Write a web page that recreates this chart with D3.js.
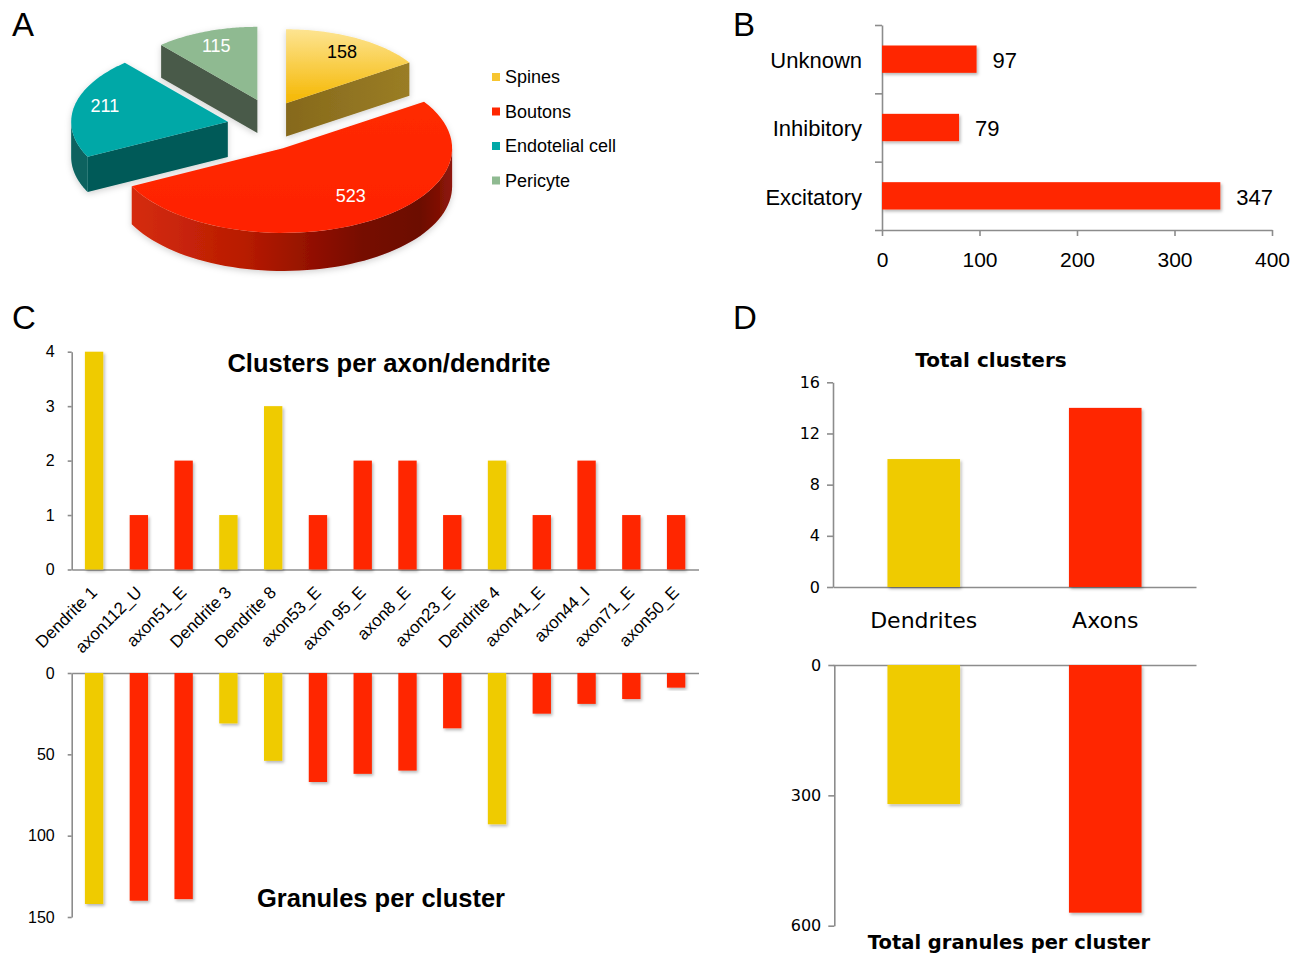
<!DOCTYPE html>
<html lang="en">
<head>
<meta charset="UTF-8">
<title>Clusters per axon/dendrite</title>
<script src="https://cdn.jsdelivr.net/npm/d3@7"></script>
<style>
  body { margin: 0; background: #fff; }
  svg { display: block; }
</style>
</head>
<body>
<div id="chart"></div>
<script>
// ---- data ----
// A: pie
const pieCats = ["Spines", "Boutons", "Endotelial cell", "Pericyte"]
const pieValues = [158, 523, 211, 115]
// B: synapse types
const typeCats = ["Unknown", "Inhibitory", "Excitatory"]
const typeValues = [97, 79, 347]
const typeTicks = [0, 100, 200, 300, 400]
// C: per axon / dendrite
const fibreNames = ["Dendrite 1", "axon112_U", "axon51_E", "Dendrite 3", "Dendrite 8", "axon53_E", "axon 95_E",
    "axon8_E", "axon23_E", "Dendrite 4", "axon41_E", "axon44_I", "axon71_E", "axon50_E"]
const fibreKind = ["d", "a", "a", "d", "d", "a", "a", "a", "a", "d", "a", "a", "a", "a"]
const clusterCounts = [4, 1, 2, 1, 3, 1, 2, 2, 1, 2, 1, 2, 1, 1]
const granuleCounts = [142, 140, 139, 31, 54, 67, 62, 60, 34, 93, 25, 19, 16, 9]
const clusterTicks = [0, 1, 2, 3, 4]
const granuleTicks = [0, 50, 100, 150]
// D: totals
const groupNames = ["Dendrites", "Axons"]
const groupKind = ["d", "a"]
const totalClusters = [10, 14]
const totalGranules = [320, 570]
const totalClusterTicks = [0, 4, 8, 12, 16]
const totalGranuleTicks = [0, 300, 600]

const kindColor = { d: "#efcb00", a: "#ff2800" }
const HELV = "'Liberation Sans', Arial, Helvetica, sans-serif"
const LUCIDA = "'DejaVu Sans', Verdana, sans-serif"
const intFmt = d3.format("d")

const svg = d3.select("#chart").append("svg").attr("width", 1302).attr("height", 954)
svg.append("rect").attr("width", 1302).attr("height", 954).attr("fill", "#fff")
const defs = svg.append("defs")

defs.append("filter").attr("id", "shadow").attr("x", "-30%").attr("y", "-10%").attr("width", "160%").attr("height", "130%")
    .append("feDropShadow").attr("dx", 1.5).attr("dy", 2).attr("stdDeviation", 1.6)
    .attr("flood-color", "#000").attr("flood-opacity", 0.28)
defs.append("filter").attr("id", "pieShadow").attr("x", "-20%").attr("y", "-20%").attr("width", "140%").attr("height", "140%")
    .append("feDropShadow").attr("dx", 0).attr("dy", 2).attr("stdDeviation", 3)
    .attr("flood-color", "#000").attr("flood-opacity", 0.18)

function gradient(id, stops, vertical) {
    const g = defs.append("linearGradient").attr("id", id)
        .attr("x1", 0).attr("y1", 0).attr("x2", vertical ? 0 : 1).attr("y2", vertical ? 1 : 0)
    stops.forEach(s => g.append("stop").attr("offset", s[0]).attr("stop-color", s[1]))
}
gradient("spinesTop", [[0, "#fde491"], [1, "#f5b700"]], true)
gradient("spinesFace", [[0, "#86691c"], [1, "#9a7d25"]], false)
gradient("boutonsWall", [[0, "#d52c0c"], [0.35, "#b81b03"], [0.72, "#760900"], [0.9, "#6c0700"], [1, "#8e1809"]], false)
gradient("boutonsTop", [[0, "#ff2a00"], [1, "#ff2200"]], true)

function styleAxis(g, family, size) {
    g.attr("font-family", family).attr("font-size", size)
    g.selectAll("path, line").attr("stroke", "#8c8c8c").attr("stroke-width", 1.6)
    g.selectAll("text").attr("fill", "#000")
}

// panel letters
const panelLetters = ["A", "B", "C", "D"]
svg.append("g").selectAll("text").data(panelLetters).join("text")
    .attr("x", (d, i) => i % 2 ? 733 : 12)
    .attr("y", (d, i) => i < 2 ? 36 : 329)
    .attr("font-family", HELV).attr("font-size", 33).text(d => d)

// ---- A: exploded 3D pie ----
const pieCfg = { cx: 270, cy: 129, rx: 160, ry: 80, depth: 36, tilt: 0.86, persp: 340 }
const pieExplode = [34, 26, 43, 36]
const pieStyle = [
    { top: "url(#spinesTop)", face: "url(#spinesFace)", wall: "#8f7421", label: "#000", key: "#f7c530" },
    { top: "url(#boutonsTop)", face: "#9e1200", wall: "url(#boutonsWall)", label: "#fff", key: "#ff2600" },
    { top: "#00a8a7", face: "#045a58", wall: "#08625f", label: "#fff", key: "#00a8a7" },
    { top: "#8fba91", face: "#4a5a48", wall: "#4a5a48", label: "#fff", key: "#8fba91" }
]

const arcs = d3.pie().sort(null).value(d => d)(pieValues)
const slices = arcs.map((a, i) => {
    const mid = (a.startAngle + a.endAngle) / 2
    const ax = pieCfg.cx + pieExplode[i] * Math.sin(mid)
    const ay = pieCfg.cy - pieExplode[i] * Math.cos(mid) * pieCfg.tilt
    const k = 1 + (ay - pieCfg.cy) / pieCfg.persp
    return { i, a, mid, ax, ay, rx: pieCfg.rx * k, ry: pieCfg.ry * k, dz: pieCfg.depth * k }
})

const rim = (s, t, z) => [s.ax + s.rx * Math.sin(t), s.ay - s.ry * Math.cos(t) + (z || 0)]
const arcPts = (s, t0, t1, z) => d3.range(61).map(j => rim(s, t0 + (t1 - t0) * j / 60, z))
const poly = d3.line()

const pieG = svg.append("g")
slices.slice().sort((p, q) => p.ay - q.ay).forEach(s => {
    const g = pieG.append("g").attr("filter", "url(#pieShadow)")
    const st = pieStyle[s.i]
    const t0 = s.a.startAngle, t1 = s.a.endAngle
    const apex = [s.ax, s.ay], apexLow = [s.ax, s.ay + s.dz]
    if (Math.sin(t0) < -1e-6) {
        g.append("path").attr("fill", st.face)
            .attr("d", poly([apex, rim(s, t0), rim(s, t0, s.dz), apexLow]) + "Z")
    }
    if (Math.sin(t1) > 1e-6) {
        g.append("path").attr("fill", st.face)
            .attr("d", poly([apex, rim(s, t1), rim(s, t1, s.dz), apexLow]) + "Z")
    }
    const w0 = Math.max(t0, Math.PI / 2), w1 = Math.min(t1, Math.PI * 1.5)
    if (w1 > w0) {
        const pts = arcPts(s, w0, w1).concat(arcPts(s, w1, w0, s.dz))
        g.append("path").attr("fill", st.wall).attr("d", poly(pts) + "Z")
    }
    g.append("path").attr("fill", st.top)
        .attr("d", poly([apex].concat(arcPts(s, t0, t1))) + "Z")
})

pieG.selectAll("text.val").data(slices).join("text")
    .attr("x", s => s.ax + 0.8 * s.rx * Math.sin(s.mid))
    .attr("y", s => s.ay - 0.72 * s.ry * Math.cos(s.mid) - 5)
    .attr("dy", "0.35em").attr("text-anchor", "middle")
    .attr("font-family", HELV).attr("font-size", 18)
    .attr("fill", s => pieStyle[s.i].label)
    .text(s => pieValues[s.i])

const legend = svg.append("g").selectAll("g").data(pieCats).join("g")
    .attr("transform", (d, i) => `translate(492,${77 + i * 34.5})`)
legend.append("rect").attr("y", -4).attr("width", 8).attr("height", 8).attr("fill", (d, i) => pieStyle[i].key)
legend.append("text").attr("x", 13).attr("dy", "0.35em")
    .attr("font-family", HELV).attr("font-size", 18).text(d => d)

// ---- B: horizontal bars ----
const xB = d3.scaleLinear().domain([0, 400]).range([882, 1272])
const yB = d3.scaleBand().domain(typeCats).range([25, 230]).paddingInner(0.6).paddingOuter(0.3)
const sepB = d3.scaleLinear().domain([0, typeCats.length]).range([230, 25])

svg.append("g").attr("transform", "translate(0,230)")
    .call(d3.axisBottom(xB).tickValues(typeTicks).tickSize(6).tickSizeOuter(0).tickPadding(16))
    .call(g => styleAxis(g, HELV, 21))
svg.append("g").attr("transform", "translate(882,0)")
    .call(d3.axisLeft(sepB).tickValues(d3.range(typeCats.length + 1)).tickSize(7).tickSizeOuter(0).tickFormat(""))
    .call(g => styleAxis(g, HELV, 21))

svg.append("g").selectAll("rect").data(typeValues).join("rect")
    .attr("x", xB(0)).attr("y", (d, i) => yB(typeCats[i]))
    .attr("width", d => xB(d) - xB(0)).attr("height", yB.bandwidth())
    .attr("fill", kindColor.a).attr("filter", "url(#shadow)")
svg.append("g").selectAll("text").data(typeValues).join("text")
    .attr("x", d => xB(d) + 16).attr("y", (d, i) => yB(typeCats[i]) + yB.bandwidth() / 2 + 1)
    .attr("dy", "0.35em").attr("font-family", HELV).attr("font-size", 22).text(d => d)
svg.append("g").selectAll("text").data(typeCats).join("text")
    .attr("x", 862).attr("y", d => yB(d) + yB.bandwidth() / 2 + 1)
    .attr("dy", "0.35em").attr("text-anchor", "end").attr("font-family", HELV).attr("font-size", 22).text(d => d)

// ---- C: clusters (up) and granules (down) ----
const xC = d3.scaleBand().domain(fibreNames).range([71.7, 698.5]).paddingInner(0.59).paddingOuter(0.295)
const yCt = d3.scaleLinear().domain([0, 4]).range([569.5, 351.7])
const yCb = d3.scaleLinear().domain([0, 150]).range([673, 917])

svg.append("g").attr("transform", "translate(71.7,0)")
    .call(d3.axisLeft(yCt).tickValues(clusterTicks).tickFormat(intFmt).tickSize(4).tickSizeOuter(0).tickPadding(13))
    .call(g => styleAxis(g, HELV, 16))
svg.append("g").attr("transform", `translate(0,${yCt(0)})`)
    .call(d3.axisBottom(xC).tickSize(0).tickSizeOuter(0).tickFormat(""))
    .call(g => styleAxis(g, HELV, 16))
svg.append("g").attr("transform", "translate(71.7,0)")
    .call(d3.axisLeft(yCb).tickValues(granuleTicks).tickFormat(intFmt).tickSize(4).tickSizeOuter(0).tickPadding(13))
    .call(g => styleAxis(g, HELV, 16))
svg.append("g").attr("transform", `translate(0,${yCb(0)})`)
    .call(d3.axisTop(xC).tickSize(0).tickSizeOuter(0).tickFormat(""))
    .call(g => styleAxis(g, HELV, 16))

svg.append("g").selectAll("rect").data(clusterCounts).join("rect")
    .attr("x", (d, i) => xC(fibreNames[i])).attr("width", xC.bandwidth())
    .attr("y", d => yCt(d)).attr("height", d => yCt(0) - yCt(d))
    .attr("fill", (d, i) => kindColor[fibreKind[i]]).attr("filter", "url(#shadow)")
svg.append("g").selectAll("rect").data(granuleCounts).join("rect")
    .attr("x", (d, i) => xC(fibreNames[i])).attr("width", xC.bandwidth())
    .attr("y", yCb(0)).attr("height", d => yCb(d) - yCb(0))
    .attr("fill", (d, i) => kindColor[fibreKind[i]]).attr("filter", "url(#shadow)")

svg.append("g").selectAll("text").data(fibreNames).join("text")
    .attr("transform", d => `translate(${xC(d) + xC.bandwidth() / 2 + 4},${yCt(0) + 24}) rotate(-45)`)
    .attr("text-anchor", "end").attr("font-family", HELV).attr("font-size", 17).text(d => d)

svg.append("text").attr("x", 389).attr("y", 372).attr("text-anchor", "middle")
    .attr("font-family", HELV).attr("font-weight", "bold").attr("font-size", 25.5).text("Clusters per axon/dendrite")
svg.append("text").attr("x", 381).attr("y", 907).attr("text-anchor", "middle")
    .attr("font-family", HELV).attr("font-weight", "bold").attr("font-size", 25.5).text("Granules per cluster")

// ---- D: totals ----
const xD = d3.scaleBand().domain(groupNames).range([833, 1196]).paddingInner(0.6).paddingOuter(0.3)
const yDt = d3.scaleLinear().domain([0, 16]).range([587, 382.3])
const yDb = d3.scaleLinear().domain([0, 600]).range([665, 925.7])

svg.append("g").attr("transform", "translate(833,0)")
    .call(d3.axisLeft(yDt).tickValues(totalClusterTicks).tickSize(6).tickSizeOuter(0).tickPadding(7))
    .call(g => styleAxis(g, LUCIDA, 16))
svg.append("g").attr("transform", `translate(0,${yDt(0)})`)
    .call(d3.axisBottom(xD).tickSize(0).tickSizeOuter(0).tickFormat(""))
    .call(g => styleAxis(g, LUCIDA, 16))
svg.append("g").attr("transform", "translate(834.3,0)")
    .call(d3.axisLeft(yDb).tickValues(totalGranuleTicks).tickSize(6).tickSizeOuter(0).tickPadding(7))
    .call(g => styleAxis(g, LUCIDA, 16))
svg.append("g").attr("transform", `translate(0,${yDb(0)})`)
    .call(d3.axisTop(xD).tickSize(0).tickSizeOuter(0).tickFormat(""))
    .call(g => styleAxis(g, LUCIDA, 16))

svg.append("g").selectAll("rect").data(totalClusters).join("rect")
    .attr("x", (d, i) => xD(groupNames[i])).attr("width", xD.bandwidth())
    .attr("y", d => yDt(d)).attr("height", d => yDt(0) - yDt(d))
    .attr("fill", (d, i) => kindColor[groupKind[i]]).attr("filter", "url(#shadow)")
svg.append("g").selectAll("rect").data(totalGranules).join("rect")
    .attr("x", (d, i) => xD(groupNames[i])).attr("width", xD.bandwidth())
    .attr("y", yDb(0)).attr("height", d => yDb(d) - yDb(0))
    .attr("fill", (d, i) => kindColor[groupKind[i]]).attr("filter", "url(#shadow)")

svg.append("g").selectAll("text").data(groupNames).join("text")
    .attr("x", d => xD(d) + xD.bandwidth() / 2).attr("y", 628).attr("text-anchor", "middle")
    .attr("font-family", LUCIDA).attr("font-size", 22).text(d => d)

svg.append("text").attr("x", 991).attr("y", 367).attr("text-anchor", "middle")
    .attr("font-family", LUCIDA).attr("font-weight", "bold").attr("font-size", 20).text("Total clusters")
svg.append("text").attr("x", 1009).attr("y", 949).attr("text-anchor", "middle")
    .attr("font-family", LUCIDA).attr("font-weight", "bold").attr("font-size", 19.5).text("Total granules per cluster")
</script>
</body>
</html>
